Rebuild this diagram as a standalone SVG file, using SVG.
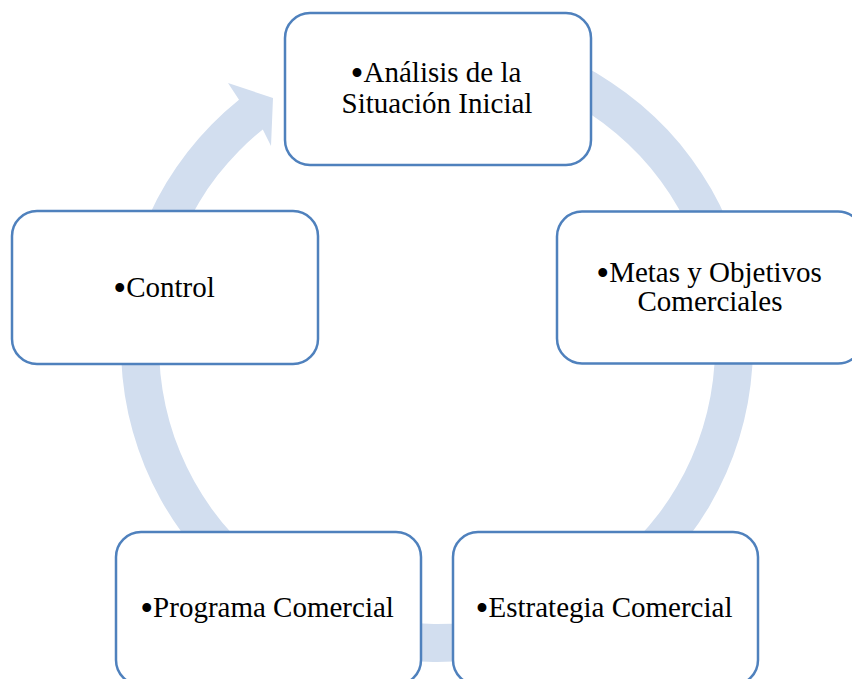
<svg xmlns="http://www.w3.org/2000/svg" width="852" height="679" viewBox="0 0 852 679">
  <style>
    .ring { fill: #D2DEEF; stroke: none; }
    .box { fill: #FFFFFF; stroke: #4F81BD; stroke-width: 2.5; }
    .label { font-family: "Liberation Serif", "Times New Roman", serif; font-size: 29px; fill: #000000; text-anchor: middle; }
    .bullet { font-size: 37px; }
  </style>
  <rect width="852" height="679" fill="#FFFFFF"/>

  <!-- circular arrow running clockwise behind the steps -->
  <g id="connectors">
    <path class="ring" d="M 437 30 A 316 316 0 1 1 239 99.7 L 228 83 L 273 98 L 271 146 L 262.8 129.4 A 278 278 0 1 0 437 68 Z"/>
  </g>

  <!-- bullets are set larger and nudged down to sit at mid x-height -->
  <g id="node-analisis">
    <rect class="box" x="285" y="13" width="306" height="152" rx="25" ry="25"/>
    <text class="label" x="436" y="82"><tspan class="bullet" dy="3.5">•</tspan><tspan dy="-3.5">Análisis de la</tspan></text>
    <text class="label" x="437" y="113">Situación Inicial</text>
  </g>

  <g id="node-metas">
    <rect class="box" x="557" y="211.5" width="306" height="152" rx="25" ry="25"/>
    <text class="label" x="709" y="282"><tspan class="bullet" dy="3.5">•</tspan><tspan dy="-3.5">Metas y Objetivos</tspan></text>
    <text class="label" x="710" y="311">Comerciales</text>
  </g>

  <g id="node-estrategia">
    <rect class="box" x="453" y="532" width="305" height="153" rx="25" ry="25"/>
    <text class="label" x="604" y="617"><tspan class="bullet" dy="3.5">•</tspan><tspan dy="-3.5">Estrategia Comercial</tspan></text>
  </g>

  <g id="node-programa">
    <rect class="box" x="116" y="532" width="305" height="153" rx="25" ry="25"/>
    <text class="label" x="267" y="617"><tspan class="bullet" dy="3.5">•</tspan><tspan dy="-3.5">Programa Comercial</tspan></text>
  </g>

  <g id="node-control">
    <rect class="box" x="12" y="211" width="306" height="153" rx="25" ry="25"/>
    <text class="label" x="164" y="297"><tspan class="bullet" dy="3.5">•</tspan><tspan dy="-3.5">Control</tspan></text>
  </g>
</svg>
